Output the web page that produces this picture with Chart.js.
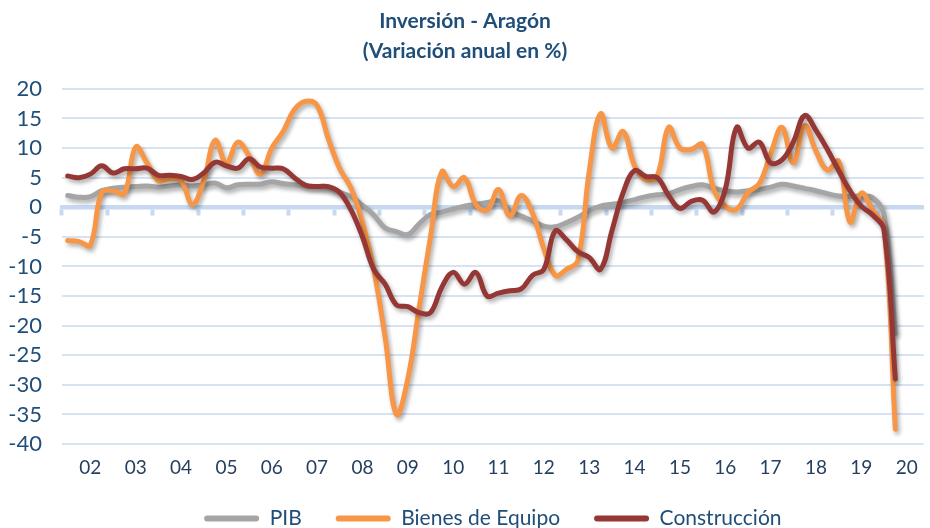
<!DOCTYPE html>
<html>
<head>
<meta charset="utf-8">
<script src="https://cdn.jsdelivr.net/npm/chart.js@4.4.1/dist/chart.umd.min.js"></script>
<style>
  html, body { margin: 0; padding: 0; background: #ffffff; }
  #wrap { width: 930px; height: 528px; }
</style>
</head>
<body>
<div id="wrap"><canvas id="c" width="930" height="528"></canvas></div>
<script>
// Quarterly categories (trimestres)
const categories = [
  '2001T3','2001T4',
  '2002T1','2002T2','2002T3','2002T4',
  '2003T1','2003T2','2003T3','2003T4',
  '2004T1','2004T2','2004T3','2004T4',
  '2005T1','2005T2','2005T3','2005T4',
  '2006T1','2006T2','2006T3','2006T4',
  '2007T1','2007T2','2007T3','2007T4',
  '2008T1','2008T2','2008T3','2008T4',
  '2009T1','2009T2','2009T3','2009T4',
  '2010T1','2010T2','2010T3','2010T4',
  '2011T1','2011T2','2011T3','2011T4',
  '2012T1','2012T2','2012T3','2012T4',
  '2013T1','2013T2','2013T3','2013T4',
  '2014T1','2014T2','2014T3','2014T4',
  '2015T1','2015T2','2015T3','2015T4',
  '2016T1','2016T2','2016T3','2016T4',
  '2017T1','2017T2','2017T3','2017T4',
  '2018T1','2018T2','2018T3','2018T4',
  '2019T1','2019T2','2019T3','2019T4',
  '2020T1','2020T2'
];

// Year tick labels, shown on the first quarter of each year
const yearLabels = ['02','03','04','05','06','07','08','09','10','11','12','13','14','15','16','17','18','19','20'];

// Y axis tick range
const yMin = -40, yMax = 20, yStep = 5;

const pib = [
  2.0, 1.7, 1.8, 2.8, 3.2, 3.4, 3.5, 3.6, 3.4, 3.6, 3.8, 3.6, 3.8, 4.1, 3.3, 3.8, 3.9, 3.9, 4.3, 4.0,
  3.8, 3.6, 3.5, 3.2, 2.5, 1.8, 0.3, -1.3, -3.5, -4.1, -4.6, -2.8, -1.2, -0.8, -0.3, 0.2, 0.5, 0.8, 1.1, -0.6,
  -1.5, -2.3, -3.2, -3.3, -2.6, -1.7, -0.6, 0.2, 0.5, 0.8, 1.3, 1.8, 2.1, 2.3, 3.0, 3.5, 3.8, 3.2, 2.8, 2.6,
  2.8, 3.0, 3.4, 3.9, 3.6, 3.2, 2.8, 2.3, 1.9, 1.8, 1.9, 1.6, -1.2, -21.3
];

const bienesEquipo = [
  -5.6, -5.8, -6.4, 2.5, 2.8, 2.3, 10.2, 7.5, 4.5, 4.8, 4.5, 0.5, 4.5, 11.3, 7.5, 11.0, 8.7, 5.6, 10.0, 12.8,
  16.5, 17.9, 17.2, 11.5, 6.5, 3.2, -2.5, -10.5, -22.0, -35.0, -29.0, -17.0, -5.0, 6.0, 3.5, 5.0, 0.5, -0.5, 3.0, -1.5,
  2.0, -1.0, -7.0, -11.5, -10.5, -9.0, 6.0, 15.8, 10.0, 12.8, 7.0, 4.7, 5.3, 13.5, 10.0, 9.8, 10.6, 3.0, 0.2, -0.3,
  2.5, 4.0, 9.0, 13.5, 7.5, 13.8, 9.5, 6.3, 7.8, -2.5, 2.4, -0.5, -3.5, -37.5
];

const construccion = [
  5.3, 5.0, 5.6, 7.0, 5.8, 6.5, 6.5, 6.6, 5.4, 5.4, 5.2, 4.7, 5.8, 7.6, 7.0, 6.6, 8.2, 6.8, 6.6, 6.5,
  5.0, 3.7, 3.5, 3.5, 2.5, -0.5, -5.0, -10.5, -13.0, -16.5, -16.8, -17.8, -17.8, -13.5, -11.0, -13.0, -11.0, -15.0, -14.5, -14.1,
  -13.8, -11.5, -10.5, -4.0, -5.5, -7.5, -8.5, -10.5, -4.0, 2.5, 6.2, 5.2, 5.0, 2.0, -0.2, 1.0, 1.2, -0.8, 3.0, 13.5,
  10.0, 11.0, 7.5, 8.0, 11.0, 15.5, 13.0, 9.8, 6.2, 2.8, 0.2, -1.3, -3.8, -29.0
];

const seriesNames = ['PIB', 'Bienes de Equipo', 'Construcción'];
const seriesColors = ['#A5A5A5', '#F79646', '#953735'];

const navy = '#1F4E79';
const gridBlue = '#D7E3F2';
const zeroBlue = '#C6D9F1';
const FONT = 'Lato, "Open Sans", "DejaVu Sans", sans-serif';

const shadowPlugin = {
  id: 'lineShadow',
  beforeDatasetDraw(chart) {
    const c = chart.ctx;
    c.save();
    c.shadowColor = 'rgba(0,0,0,0.33)';
    c.shadowBlur = 4;
    c.shadowOffsetX = 2;
    c.shadowOffsetY = 3;
  },
  afterDatasetDraw(chart) {
    chart.ctx.restore();
  }
};

const datasets = [pib, bienesEquipo, construccion].map((d, i) => ({
  label: seriesNames[i],
  data: d,
  borderColor: seriesColors[i],
  backgroundColor: seriesColors[i],
  borderWidth: 5,
  pointRadius: 0,
  pointHoverRadius: 0,
  tension: 0.4,
  fill: false,
  borderCapStyle: 'round',
  borderJoinStyle: 'round',
  order: 3 - i
}));

new Chart(document.getElementById('c'), {
  type: 'line',
  data: { labels: categories, datasets },
  plugins: [shadowPlugin],
  options: {
    responsive: false,
    animation: false,
    devicePixelRatio: 1,
    layout: { padding: { left: 0, right: 0, top: 0, bottom: -11 } },
    plugins: {
      title: {
        display: true,
        text: ['Inversión - Aragón', '(Variación anual en %)'],
        color: navy,
        font: { family: FONT, size: 21, weight: 'bold', lineHeight: 1.45 },
        padding: { top: 6, bottom: 22 }
      },
      legend: {
        position: 'bottom',
        fullSize: false,
        labels: {
          color: navy,
          font: { family: FONT, size: 21 },
          boxWidth: 55,
          boxHeight: 6,
          padding: 34,
          useBorderRadius: true,
          borderRadius: 3,
          sort: (a, b) => a.datasetIndex - b.datasetIndex,
          generateLabels(chart) {
            const items = Chart.defaults.plugins.legend.labels.generateLabels(chart);
            items.forEach(it => { it.lineWidth = 0; it.fillStyle = it.strokeStyle; });
            return items;
          }
        }
      },
      tooltip: { enabled: false }
    },
    scales: {
      x: {
        type: 'category',
        position: 'bottom',
        offset: true,
        grid: { display: false, drawTicks: false },
        border: { display: false },
        ticks: {
          autoSkip: false,
          maxRotation: 0,
          padding: 12,
          color: '#243F60',
          font: { family: FONT, size: 19 },
          callback: (v, i) => (i % 4 === 2 ? yearLabels[(i - 2) / 4] : '')
        },
        afterFit(s) { s.height = 30; }
      },
      x0: {
        type: 'category',
        axis: 'x',
        position: { y: 0 },
        offset: true,
        grid: {
          offset: true,
          drawOnChartArea: false,
          drawTicks: true,
          tickLength: 6,
          tickWidth: 4,
          tickColor: (ctx) => (ctx.index % 4 === 0 ? zeroBlue : 'rgba(0,0,0,0)')
        },
        border: { display: true, color: zeroBlue, width: 4.5 },
        ticks: { display: false }
      },
      y: {
        min: yMin,
        max: yMax,
        ticks: {
          stepSize: yStep,
          padding: 20,
          color: navy,
          font: { family: FONT, size: 22 }
        },
        grid: { color: gridBlue, lineWidth: 2, drawTicks: false },
        border: { display: false },
        afterFit(s) { s.width = 62; }
      }
    }
  }
});
</script>
</body>
</html>
